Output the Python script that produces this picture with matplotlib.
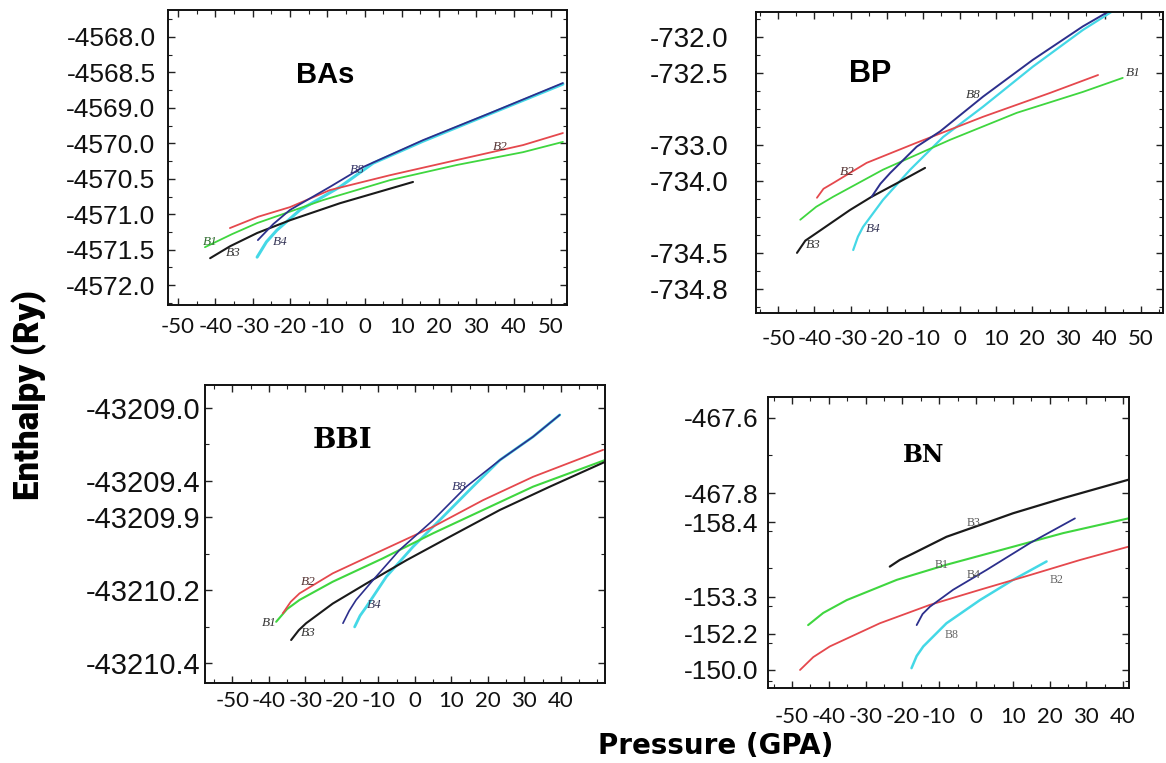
import matplotlib
matplotlib.use("Agg")
import matplotlib.pyplot as plt
from matplotlib.ticker import AutoMinorLocator

W, H = 1166, 763

# ---------------- data (x: pressure GPa, y: position on the ruled enthalpy scale,
# counted in tick-steps downward from the top tick label) ----------------
# BAs panel
bas_b1_x = [-42.8, -35.5, -28.8, -11.1, 6.8, 24.8, 42.5, 53.2]
bas_b1_y = [5.93, 5.56, 5.25, 4.60, 4.04, 3.61, 3.25, 2.96]
bas_b2_x = [-36.1, -28.5, -20.0, -9.3, 6.8, 24.8, 42.5, 53.2]
bas_b2_y = [5.39, 5.07, 4.80, 4.32, 3.90, 3.47, 3.05, 2.71]
bas_b3_x = [-41.4, -36.0, -28.8, -20.0, -6.6, 13.0]
bas_b3_y = [6.24, 5.90, 5.53, 5.17, 4.69, 4.09]
bas_b4_x = [-28.8, -26.3, -23.5, -17.3, -6.6, 2.3, 15.7, 33.6, 53.2]
bas_b4_y = [6.21, 5.78, 5.45, 4.88, 4.23, 3.56, 2.94, 2.17, 1.33]
bas_b8_x = [-28.6, -24.5, -20.0, -9.3, -0.4, 15.7, 33.6, 53.2]
bas_b8_y = [5.73, 5.28, 4.88, 4.23, 3.67, 2.91, 2.15, 1.30]
bas_yticklabels = ['-4568.0', '-4568.5', '-4569.0', '-4570.0', '-4570.5',
                   '-4571.0', '-4571.5', '-4572.0']
bas_xticks = [-50, -40, -30, -20, -10, 0, 10, 20, 30, 40, 50]

# BP panel
bp_b1_x = [-43.9, -39.5, -34.8, -21.1, -2.6, 15.8, 34.0, 45.0]
bp_b1_y = [5.08, 4.72, 4.44, 3.69, 2.86, 2.11, 1.53, 1.14]
bp_b2_x = [-39.3, -37.5, -34.8, -25.6, -11.8, 6.5, 24.9, 38.2]
bp_b2_y = [4.47, 4.22, 4.06, 3.50, 2.94, 2.22, 1.56, 1.06]
bp_b3_x = [-44.8, -42.5, -39.3, -30.2, -24.2, -16.4, -9.5]
bp_b3_y = [6.00, 5.66, 5.44, 4.81, 4.44, 4.02, 3.64]
bp_b4_x = [-29.3, -28.0, -26.6, -21.1, -13.6, -4.5, 6.5, 20.2, 34.0, 42.8]
bp_b4_y = [5.92, 5.55, 5.28, 4.53, 3.69, 2.78, 1.94, 0.83, -0.19, -0.75]
bp_b8_x = [-24.2, -21.8, -19.1, -11.8, -5.4, 6.5, 20.2, 34.0, 41.9]
bp_b8_y = [4.44, 4.08, 3.78, 3.05, 2.63, 1.66, 0.64, -0.29, -0.75]
bp_yticklabels = ['-732.0', '-732.5', '-733.0', '-734.0', '-734.5', '-734.8']
bp_xticks = [-50, -40, -30, -20, -10, 0, 10, 20, 30, 40, 50]

# BBI panel
bbi_b1_x = [-38.0, -35.0, -31.6, -22.5, -8.8, 5.0, 18.7, 32.4, 52.1]
bbi_b1_y = [5.87, 5.52, 5.27, 4.77, 4.13, 3.44, 2.80, 2.16, 1.43]
bbi_b2_x = [-36.2, -34.0, -31.6, -22.5, -8.8, 5.0, 18.7, 32.4, 51.6]
bbi_b2_y = [5.64, 5.32, 5.09, 4.54, 3.90, 3.26, 2.53, 1.89, 1.15]
bbi_b3_x = [-33.9, -31.8, -29.8, -22.5, -13.3, -2.3, 9.5, 23.3, 37.0, 52.1]
bbi_b3_y = [6.37, 6.10, 5.91, 5.37, 4.82, 4.18, 3.54, 2.80, 2.16, 1.48]
bbi_b4_x = [-16.5, -15.0, -13.3, -7.8, -0.5, 6.8, 15.9, 23.3, 32.4, 39.7]
bbi_b4_y = [6.01, 5.70, 5.46, 4.63, 3.81, 3.08, 2.16, 1.43, 0.79, 0.19]
bbi_b8_x = [-19.7, -18.0, -16.1, -11.5, -4.2, 5.0, 14.1, 23.3, 32.4, 39.7]
bbi_b8_y = [5.91, 5.57, 5.27, 4.73, 3.90, 3.08, 2.16, 1.43, 0.79, 0.19]
bbi_yticklabels = ['-43209.0', '-43209.4', '-43209.9', '-43210.2', '-43210.4']
bbi_xticks = [-50, -40, -30, -20, -10, 0, 10, 20, 30, 40]

# BN panel
bn_b1_x = [-45.6, -41.5, -35.1, -21.5, -8.0, 10.1, 23.7, 41.4]
bn_b1_y = [5.63, 5.30, 4.95, 4.40, 3.99, 3.50, 3.13, 2.73]
bn_b2_x = [-47.8, -44.2, -39.7, -26.1, -12.5, 1.1, 14.7, 28.3, 41.4]
bn_b2_y = [6.85, 6.50, 6.21, 5.58, 5.08, 4.67, 4.27, 3.86, 3.50]
bn_b3_x = [-23.4, -20.7, -17.0, -8.0, 1.1, 10.1, 23.7, 41.4]
bn_b3_y = [4.04, 3.86, 3.68, 3.23, 2.91, 2.59, 2.18, 1.68]
bn_b4_x = [-16.1, -14.5, -12.5, -6.2, 2.9, 14.7, 26.9]
bn_b4_y = [5.63, 5.33, 5.13, 4.67, 4.13, 3.40, 2.73]
bn_b8_x = [-17.5, -16.1, -14.3, -8.0, 1.1, 10.1, 19.2]
bn_b8_y = [6.80, 6.47, 6.21, 5.58, 4.95, 4.40, 3.90]
bn_yticklabels = ['-467.6', '-467.8', '-158.4', '-153.3', '-152.2', '-150.0']
bn_xticks = [-50, -40, -30, -20, -10, 0, 10, 20, 30, 40]

# ---------------- style ----------------
C_RED = '#e5484d'
C_GREEN = '#3fd63f'
C_BLACK = '#1a1a1a'
C_NAVY = '#2c2f8c'
C_CYAN = '#44d8e6'

fig = plt.figure(figsize=(W / 100, H / 100), dpi=100)
fig.patch.set_facecolor('white')


def px_axes(x0, y0, x1, y1):
    return fig.add_axes([x0 / W, 1 - y1 / H, (x1 - x0) / W, (y1 - y0) / H])


def draw_panel(ax, series, labels, ytick_pos, ytick_labels, xticks, xlim, ylim,
               title, title_xy, title_font, ylab_size, ylab_pad, xlab_pad,
               label_style):
    # cyan underneath so the navy line shows on top where they merge
    order = ['B4c', 'B8c', 'B1', 'B2', 'B3', 'B4n', 'B8n']
    for key in order:
        if key in series:
            x, y, col, lw = series[key]
            ax.plot(x, y, color=col, lw=lw, solid_capstyle='round',
                    solid_joinstyle='round')
    for txt, x, y, col in labels:
        ax.text(x, y, txt, color=col, ha='center', va='center', **label_style)
    ax.set_xlim(*xlim)
    ax.set_ylim(*ylim)
    ax.set_yticks(ytick_pos)
    ax.set_yticklabels(ytick_labels, fontfamily='Liberation Sans',
                       fontsize=ylab_size)
    ax.set_xticks(xticks)
    ax.set_xticklabels([str(v) for v in xticks], fontfamily='Lato',
                       fontsize=16)
    ax.xaxis.set_minor_locator(AutoMinorLocator(2))
    ax.yaxis.set_minor_locator(AutoMinorLocator(2))
    ax.tick_params(axis='both', which='both', direction='in', top=True,
                   right=True, colors='#222222')
    ax.tick_params(axis='both', which='major', length=5, width=1.0)
    ax.tick_params(axis='both', which='minor', length=3, width=0.8)
    ax.tick_params(axis='y', pad=ylab_pad, labelcolor='#111111')
    ax.tick_params(axis='x', pad=xlab_pad, labelcolor='#111111')
    for sp in ax.spines.values():
        sp.set_linewidth(1.4)
        sp.set_color('#111111')
    ax.text(title_xy[0], title_xy[1], title, transform=ax.transAxes,
            ha='center', va='center', **title_font)


lab_italic = dict(fontfamily='Liberation Serif', fontstyle='italic',
                  fontsize=9.5)
lab_plain = dict(fontfamily='Liberation Serif', fontsize=8.5)

# BAs
ax1 = px_axes(168, 10, 567, 305)
draw_panel(
    ax1,
    {'B1': (bas_b1_x, bas_b1_y, C_GREEN, 1.3),
     'B2': (bas_b2_x, bas_b2_y, C_RED, 1.3),
     'B3': (bas_b3_x, bas_b3_y, C_BLACK, 1.5),
     'B4c': (bas_b4_x, bas_b4_y, C_CYAN, 2.2),
     'B8n': (bas_b8_x, bas_b8_y, C_NAVY, 1.3)},
    [('B1', -41.4, 5.79, '#2d6b2d'), ('B3', -35.3, 6.10, '#333333'),
     ('B4', -22.7, 5.79, '#333355'), ('B8', -2.0, 3.75, '#333366'),
     ('B2', 36.3, 3.10, '#553333')],
    list(range(8)), bas_yticklabels, bas_xticks, (-52.7, 54.3), (7.56, -0.76),
    'BAs', (0.393, 0.78),
    dict(fontfamily='Liberation Sans', fontweight='bold', fontsize=21),
    19, 9, 9, lab_italic)

# BP
ax2 = px_axes(756, 12, 1163, 313)
draw_panel(
    ax2,
    {'B1': (bp_b1_x, bp_b1_y, C_GREEN, 1.3),
     'B2': (bp_b2_x, bp_b2_y, C_RED, 1.3),
     'B3': (bp_b3_x, bp_b3_y, C_BLACK, 1.5),
     'B4c': (bp_b4_x, bp_b4_y, C_CYAN, 1.6),
     'B8n': (bp_b8_x, bp_b8_y, C_NAVY, 1.4)},
    [('B8', 3.7, 1.61, '#333333'), ('B2', -31.0, 3.75, '#553333'),
     ('B4', -23.8, 5.33, '#333355'), ('B3', -40.4, 5.78, '#333333'),
     ('B1', 47.8, 1.00, '#333333')],
    [0, 1, 3, 4, 6, 7], bp_yticklabels, bp_xticks, (-56.1, 56.1),
    (7.67, -0.69),
    'BP', (0.28, 0.794),
    dict(fontfamily='Liberation Sans', fontweight='bold', fontsize=22),
    20, 20, 11.5, lab_italic)

# BBI
ax3 = px_axes(205, 385, 605, 683)
draw_panel(
    ax3,
    {'B1': (bbi_b1_x, bbi_b1_y, C_GREEN, 1.5),
     'B2': (bbi_b2_x, bbi_b2_y, C_RED, 1.3),
     'B3': (bbi_b3_x, bbi_b3_y, C_BLACK, 1.5),
     'B4c': (bbi_b4_x, bbi_b4_y, C_CYAN, 2.0),
     'B8n': (bbi_b8_x, bbi_b8_y, C_NAVY, 1.2)},
    [('B2', -29.3, 4.77, '#553333'), ('B1', -39.8, 5.90, '#333333'),
     ('B3', -29.3, 6.19, '#333333'), ('B4', -11.0, 5.41, '#333355'),
     ('B8', 12.3, 2.18, '#333366')],
    [0, 2, 3, 5, 7], bbi_yticklabels, bbi_xticks, (-57.5, 52.1),
    (7.55, -0.63),
    'BBI', (0.345, 0.815),
    dict(fontfamily='DejaVu Serif', fontweight='bold', fontsize=20),
    21, 3.5, 6, lab_italic)

# BN
ax4 = px_axes(768, 397, 1129, 688)
draw_panel(
    ax4,
    {'B1': (bn_b1_x, bn_b1_y, C_GREEN, 1.5),
     'B2': (bn_b2_x, bn_b2_y, C_RED, 1.3),
     'B3': (bn_b3_x, bn_b3_y, C_BLACK, 1.6),
     'B4n': (bn_b4_x, bn_b4_y, C_NAVY, 1.3),
     'B8c': (bn_b8_x, bn_b8_y, C_CYAN, 1.8)},
    [('B3', -0.7, 2.86, '#555555'), ('B1', -9.3, 3.99, '#555555'),
     ('B4', -0.7, 4.27, '#555555'), ('B2', 21.9, 4.40, '#666666'),
     ('B8', -6.6, 5.90, '#666666')],
    [0, 2.04, 2.83, 4.86, 5.87, 6.85], bn_yticklabels, bn_xticks,
    (-56.5, 41.6), (7.34, -0.57),
    'BN', (0.432, 0.80),
    dict(fontfamily='DejaVu Serif', fontweight='bold', fontsize=17),
    19, 7, 14, lab_plain)

# shared axis titles
fig.text(29 / W, 1 - 395 / H, 'Enthalpy (Ry)', rotation=90, ha='center',
         va='center', fontfamily='Roboto', fontweight='black',
         fontsize=25)
fig.text(716 / W, 1 - 746 / H, 'Pressure (GPA)', ha='center', va='center',
         fontfamily='DejaVu Sans', fontweight='bold', fontsize=20)

fig.savefig('out.png', dpi=100, facecolor='white')
